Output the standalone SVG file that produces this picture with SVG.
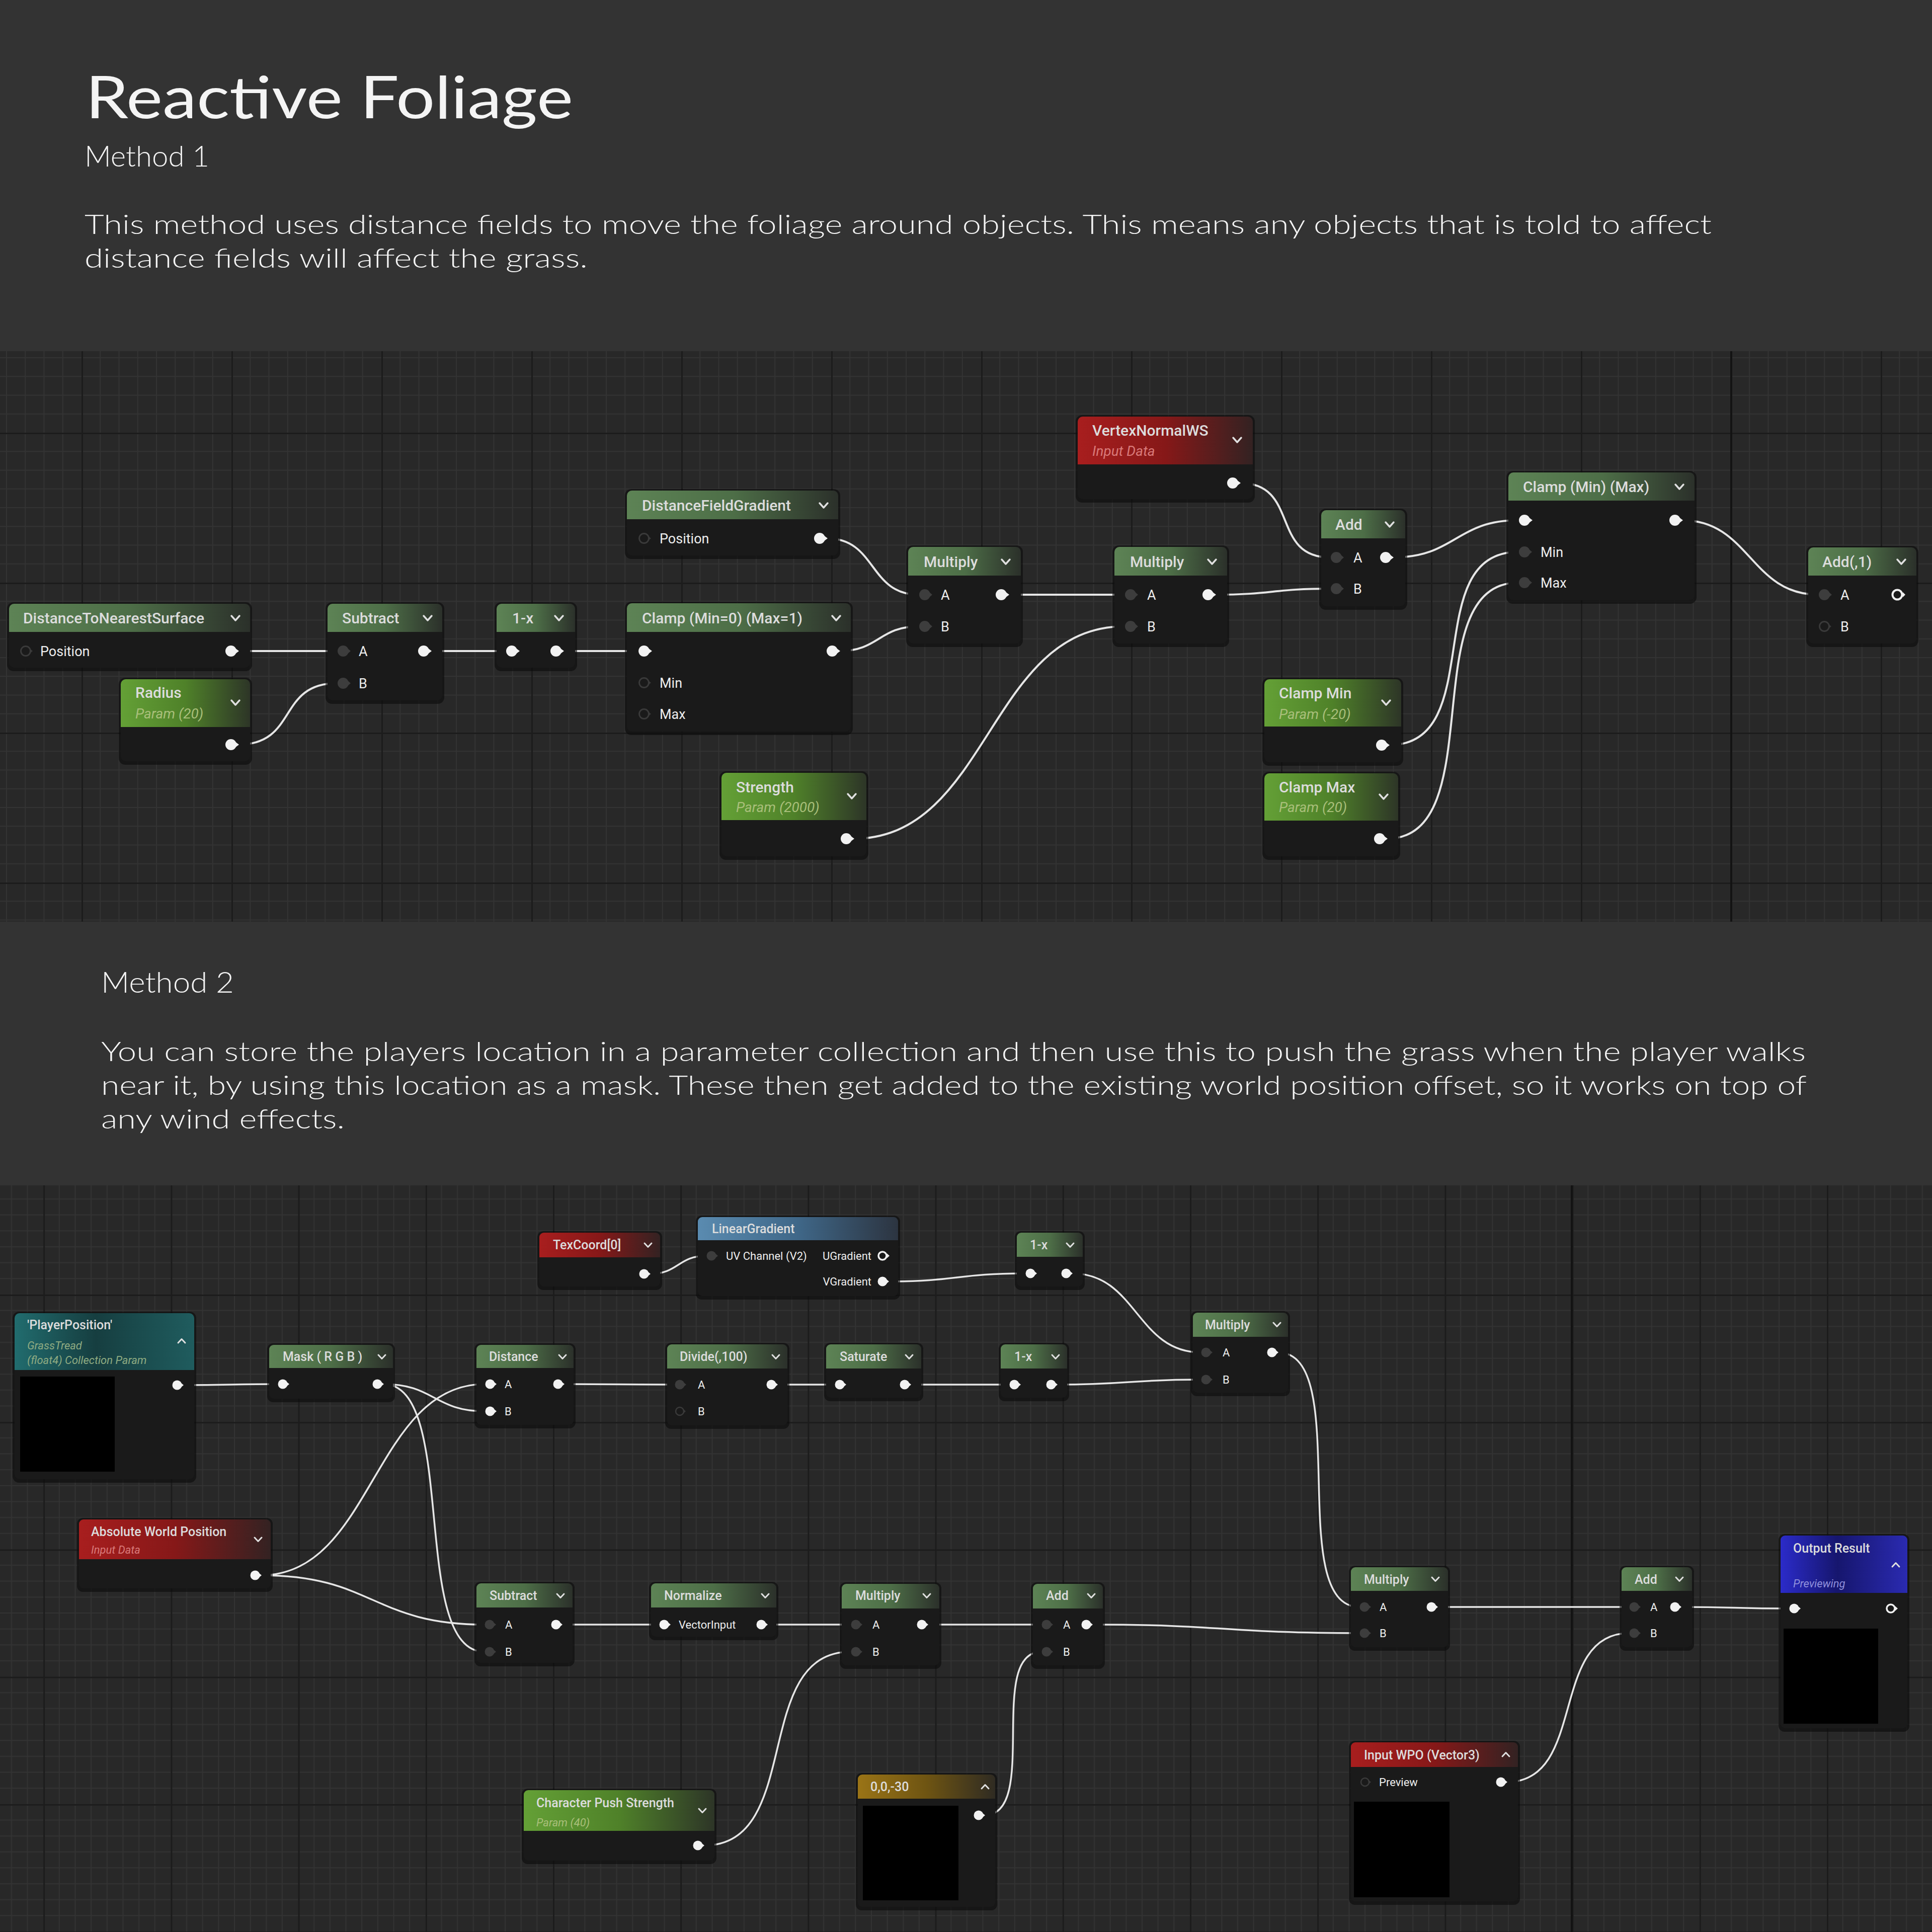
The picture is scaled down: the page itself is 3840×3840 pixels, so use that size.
<svg xmlns="http://www.w3.org/2000/svg" xmlns:xlink="http://www.w3.org/1999/xlink" width="3840" height="3840" viewBox="0 0 3840 3840">
<defs>
<style>
.t{font-family:Roboto,"Liberation Sans",sans-serif;font-weight:500;font-size:30px;fill:#dcdcdc}
.t2{font-family:Roboto,"Liberation Sans",sans-serif;font-weight:500;font-size:25px;fill:#dcdcdc}
.s{font-family:Roboto,"Liberation Sans",sans-serif;font-style:italic;font-size:28px}
.s2{font-family:Roboto,"Liberation Sans",sans-serif;font-style:italic;font-size:22px}
.p{font-family:Roboto,"Liberation Sans",sans-serif;font-size:27px;fill:#eeeeee}
.p2{font-family:Roboto,"Liberation Sans",sans-serif;font-size:22px;fill:#eeeeee}
.e{text-anchor:end}
.bd{fill:#1a1a1a}
.sh{fill:#0a0a0a;opacity:.6}
.blk{fill:#000000}
.w{fill:none;stroke:#e6e6e6;stroke-width:4;stroke-linecap:round}
.w2{fill:none;stroke:#e6e6e6;stroke-width:3.5;stroke-linecap:round}
.tx{font-family:Lato,"Open Sans","Liberation Sans",sans-serif;fill:#f4f4f4}
.pg{fill:#a9bf7a}
.pr{fill:#d97a7a}
</style>
<linearGradient id="hF" x1="0" y1="0" x2="1" y2="0"><stop offset="0" stop-color="#5d8355"/><stop offset="0.5" stop-color="#4d6e47"/><stop offset="1" stop-color="#2b302a"/></linearGradient>
<linearGradient id="hP" x1="0" y1="0" x2="1" y2="0"><stop offset="0" stop-color="#64a036"/><stop offset="0.5" stop-color="#4f8129"/><stop offset="1" stop-color="#2d3527"/></linearGradient>
<linearGradient id="hR" x1="0" y1="0" x2="1" y2="0"><stop offset="0" stop-color="#a81e1e"/><stop offset="0.5" stop-color="#861818"/><stop offset="1" stop-color="#332222"/></linearGradient>
<linearGradient id="hT" x1="0" y1="0" x2="1" y2="0"><stop offset="0" stop-color="#216c6e"/><stop offset="0.45" stop-color="#163e40"/><stop offset="1" stop-color="#1f5c5e"/></linearGradient>
<linearGradient id="hS" x1="0" y1="0" x2="1" y2="0"><stop offset="0" stop-color="#5a8bb0"/><stop offset="0.5" stop-color="#3f6788"/><stop offset="1" stop-color="#2c3440"/></linearGradient>
<linearGradient id="hG" x1="0" y1="0" x2="1" y2="0"><stop offset="0" stop-color="#9a7416"/><stop offset="0.5" stop-color="#6e5412"/><stop offset="1" stop-color="#2f2b22"/></linearGradient>
<linearGradient id="hB" x1="0" y1="0" x2="1" y2="0"><stop offset="0" stop-color="#2b2bc9"/><stop offset="0.45" stop-color="#16166e"/><stop offset="1" stop-color="#2a2ab0"/></linearGradient>
<pattern id="grid1" patternUnits="userSpaceOnUse" x="162" y="860" width="298" height="298">
<rect width="298" height="298" fill="#282828"/>
<path d="M37.25,0V298M74.5,0V298M111.75,0V298M149,0V298M186.25,0V298M223.5,0V298M260.75,0V298M0,37.25H298M0,74.5H298M0,111.75H298M0,149H298M0,186.25H298M0,223.5H298M0,260.75H298" stroke="#333333" stroke-width="2"/>
<path d="M1.5,0V298M0,1.5H298" stroke="#1c1c1c" stroke-width="3"/>
</pattern>
<pattern id="grid2" patternUnits="userSpaceOnUse" x="86.2" y="2319.8" width="253.2" height="253.2">
<rect width="253.2" height="253.2" fill="#282828"/>
<path d="M31.65,0V253.2M63.3,0V253.2M94.95,0V253.2M126.6,0V253.2M158.25,0V253.2M189.9,0V253.2M221.55,0V253.2M0,31.65H253.2M0,63.3H253.2M0,94.95H253.2M0,126.6H253.2M0,158.25H253.2M0,189.9H253.2M0,221.55H253.2" stroke="#333333" stroke-width="2"/>
<path d="M1.5,0V253.2M0,1.5H253.2" stroke="#1c1c1c" stroke-width="3"/>
</pattern>
<g id="pw"><circle r="11" fill="#f2f2f2"/><path d="M8,-6L16,0L8,6Z" fill="#f2f2f2"/></g>
<g id="pd"><circle r="11" fill="#3d3d3d"/><path d="M8,-6L15,0L8,6Z" fill="#3d3d3d"/></g>
<g id="ph"><circle r="9.5" fill="none" stroke="#3a3a3a" stroke-width="3"/><path d="M9,-4L14,0L9,4Z" fill="#3a3a3a"/></g>
<g id="phw"><circle r="9.5" fill="none" stroke="#f0f0f0" stroke-width="4"/><path d="M11,-5L16,0L11,5Z" fill="#f0f0f0"/></g>
<g id="pw2"><circle r="9.5" fill="#f2f2f2"/><path d="M7,-5L13,0L7,5Z" fill="#f2f2f2"/></g>
<g id="pd2"><circle r="9.5" fill="#3d3d3d"/><path d="M7,-5L13,0L7,5Z" fill="#3d3d3d"/></g>
<g id="ph2"><circle r="8" fill="none" stroke="#3a3a3a" stroke-width="2.5"/><path d="M8,-3.5L12,0L8,3.5Z" fill="#3a3a3a"/></g>
<g id="phw2"><circle r="8" fill="none" stroke="#f0f0f0" stroke-width="3.5"/><path d="M9,-4.5L14,0L9,4.5Z" fill="#f0f0f0"/></g>
<path id="chv" d="M-8,-5L0,4L8,-5" fill="none" stroke="#e0e0e0" stroke-width="3.5" stroke-linecap="round" stroke-linejoin="round"/>
<path id="chv2" d="M-7,-4L0,3.5L7,-4" fill="none" stroke="#e0e0e0" stroke-width="3" stroke-linecap="round" stroke-linejoin="round"/>
<path id="chu2" d="M-7,4L0,-3.5L7,4" fill="none" stroke="#e0e0e0" stroke-width="3" stroke-linecap="round" stroke-linejoin="round"/>
</defs>

<rect width="3840" height="3840" fill="#333333"/>
<rect x="0" y="698" width="3840" height="1134" fill="url(#grid1)"/>
<rect x="3439" y="698" width="4" height="1134" fill="#131313"/>
<rect x="0" y="2356" width="3840" height="1484" fill="url(#grid2)"/>
<rect x="3122" y="2356" width="4" height="1484" fill="#131313"/>

<g id="texts">
<text class="tx" x="170" y="235" font-size="116" font-weight="400" textLength="969" lengthAdjust="spacingAndGlyphs">Reactive Foliage</text>
<text class="tx" x="168" y="331" font-size="57" font-weight="300" textLength="248" lengthAdjust="spacingAndGlyphs">Method 1</text>
<text class="tx" x="168" y="465" font-size="54" font-weight="300" textLength="3234" lengthAdjust="spacingAndGlyphs">This method uses distance fields to move the foliage around objects. This means any objects that is told to affect</text>
<text class="tx" x="168" y="532" font-size="54" font-weight="300" textLength="1000" lengthAdjust="spacingAndGlyphs">distance fields will affect the grass.</text>
<text class="tx" x="201" y="1973" font-size="57" font-weight="300" textLength="264" lengthAdjust="spacingAndGlyphs">Method 2</text>
<text class="tx" x="201" y="2109" font-size="54" font-weight="300" textLength="3388" lengthAdjust="spacingAndGlyphs">You can store the players location in a parameter collection and then use this to push the grass when the player walks</text>
<text class="tx" x="201" y="2176" font-size="54" font-weight="300" textLength="3390" lengthAdjust="spacingAndGlyphs">near it, by using this location as a mask. These then get added to the existing world position offset, so it works on top of</text>
<text class="tx" x="201" y="2243" font-size="54" font-weight="300" textLength="484" lengthAdjust="spacingAndGlyphs">any wind effects.</text>
</g>

<g id="connectors">
<path class="w" d="M473,1294L670,1294"/>
<path class="w" d="M473,1480C593,1480 550,1358 670,1358"/>
<path class="w" d="M856,1294L1005,1294"/>
<path class="w" d="M1119,1294L1268,1294"/>
<path class="w" d="M1643,1070C1743,1070 1726,1182 1826,1182"/>
<path class="w" d="M1668,1294C1747,1294 1747,1245 1826,1245"/>
<path class="w" d="M2004,1182L2235,1182"/>
<path class="w" d="M1696,1667C1966,1667 1965,1245 2235,1245"/>
<path class="w" d="M2464,960C2584,960 2524,1108 2644,1108"/>
<path class="w" d="M2415,1182C2530,1182 2529,1170 2644,1170"/>
<path class="w" d="M2768,1108C2893,1108 2893,1034 3018,1034"/>
<path class="w" d="M2760,1481C2960,1481 2818,1097 3018,1097"/>
<path class="w" d="M2756,1667C2966,1667 2808,1158 3018,1158"/>
<path class="w" d="M3343,1034C3478,1034 3479,1182 3614,1182"/>

<path class="w2" d="M364,2753C458,2753 458,2751 552,2751"/>
<path class="w2" d="M762,2751C863,2751 863,2805 964,2805"/>
<path class="w2" d="M762,2751C912,2751 813,3283 963,3283"/>
<path class="w2" d="M519,3131C741,3131 742,2751 964,2751"/>
<path class="w2" d="M519,3131C741,3131 741,3229 963,3229"/>
<path class="w2" d="M1121,2751C1231,2751 1231,2752 1341,2752"/>
<path class="w2" d="M1545,2752L1659,2752"/>
<path class="w2" d="M1810,2752L2006,2752"/>
<path class="w2" d="M2101,2752C2244,2752 2244,2742 2387,2742"/>
<path class="w2" d="M1292,2532C1348,2532 1348,2496 1404,2496"/>
<path class="w2" d="M1766,2547C1902,2547 1902,2531 2038,2531"/>
<path class="w2" d="M2131,2531C2259,2531 2259,2688 2387,2688"/>
<path class="w2" d="M2540,2688C2690,2688 2552,3194 2702,3194"/>
<path class="w2" d="M1117,3229L1310,3229"/>
<path class="w2" d="M1525,3229L1691,3229"/>
<path class="w2" d="M1399,3668C1599,3668 1491,3283 1691,3283"/>
<path class="w2" d="M1844,3229L2070,3229"/>
<path class="w2" d="M1957,3608C2067,3608 1960,3283 2070,3283"/>
<path class="w2" d="M2171,3229C2436,3229 2437,3246 2702,3246"/>
<path class="w2" d="M2857,3194L3238,3194"/>
<path class="w2" d="M2995,3542C3155,3542 3078,3246 3238,3246"/>
<path class="w2" d="M3341,3194C3448,3194 3449,3197 3556,3197"/>
</g>

<g id="nodes">
<g id="n1-distance-to-nearest-surface">
<rect class="sh" x="14" y="1197" width="487" height="137" rx="13"/>
<rect class="bd" x="18" y="1200" width="479" height="127" rx="10"/>
<rect x="18" y="1200" width="479" height="56" rx="10" fill="url(#hF)"/><rect x="18" y="1240" width="479" height="16" fill="url(#hF)"/>
<text class="t" x="46" y="1239">DistanceToNearestSurface</text>
<use href="#chv" x="468" y="1229"/>
<use href="#ph" x="51" y="1294"/><text class="p" x="80" y="1304">Position</text>
<use href="#pw" x="459" y="1294"/>
</g>
<g id="n1-radius">
<rect class="sh" x="236" y="1347" width="265" height="173" rx="13"/>
<rect class="bd" x="240" y="1350" width="257" height="163" rx="10"/>
<rect x="240" y="1350" width="257" height="95" rx="10" fill="url(#hP)"/><rect x="240" y="1429" width="257" height="16" fill="url(#hP)"/>
<text class="t" x="269" y="1387">Radius</text>
<text class="s pg" x="269" y="1428">Param (20)</text>
<use href="#chv" x="468" y="1397"/>
<use href="#pw" x="459" y="1480"/>
</g>
<g id="n1-subtract">
<rect class="sh" x="647" y="1197" width="236" height="202" rx="13"/>
<rect class="bd" x="651" y="1200" width="228" height="192" rx="10"/>
<rect x="651" y="1200" width="228" height="56" rx="10" fill="url(#hF)"/><rect x="651" y="1240" width="228" height="16" fill="url(#hF)"/>
<text class="t" x="680" y="1239">Subtract</text>
<use href="#chv" x="850" y="1229"/>
<use href="#pd" x="682" y="1294"/><text class="p" x="713" y="1304">A</text>
<use href="#pd" x="682" y="1358"/><text class="p" x="713" y="1368">B</text>
<use href="#pw" x="842" y="1294"/>
</g>
<g id="n1-one-minus">
<rect class="sh" x="983" y="1197" width="164" height="137" rx="13"/>
<rect class="bd" x="987" y="1200" width="156" height="127" rx="10"/>
<rect x="987" y="1200" width="156" height="56" rx="10" fill="url(#hF)"/><rect x="987" y="1240" width="156" height="16" fill="url(#hF)"/>
<text class="t" x="1018" y="1239">1-x</text>
<use href="#chv" x="1111" y="1229"/>
<use href="#pw" x="1017" y="1294"/><use href="#pw" x="1105" y="1294"/>
</g>
<g id="n1-clamp01">
<rect class="sh" x="1242" y="1196" width="453" height="265" rx="13"/>
<rect class="bd" x="1246" y="1199" width="445" height="255" rx="10"/>
<rect x="1246" y="1199" width="445" height="57" rx="10" fill="url(#hF)"/><rect x="1246" y="1240" width="445" height="16" fill="url(#hF)"/>
<text class="t" x="1276" y="1239">Clamp (Min=0) (Max=1)</text>
<use href="#chv" x="1662" y="1229"/>
<use href="#pw" x="1280" y="1294"/><use href="#pw" x="1654" y="1294"/>
<use href="#ph" x="1280" y="1357"/><text class="p" x="1311" y="1367">Min</text>
<use href="#ph" x="1280" y="1419"/><text class="p" x="1311" y="1429">Max</text>
</g>
<g id="n1-distance-field-gradient">
<rect class="sh" x="1242" y="972" width="428" height="139" rx="13"/>
<rect class="bd" x="1246" y="975" width="420" height="129" rx="10"/>
<rect x="1246" y="975" width="420" height="57" rx="10" fill="url(#hF)"/><rect x="1246" y="1016" width="420" height="16" fill="url(#hF)"/>
<text class="t" x="1276" y="1015">DistanceFieldGradient</text>
<use href="#chv" x="1637" y="1005"/>
<use href="#ph" x="1280" y="1070"/><text class="p" x="1311" y="1080">Position</text>
<use href="#pw" x="1629" y="1070"/>
</g>
<g id="n1-multiply-a">
<rect class="sh" x="1801" y="1084" width="232" height="202" rx="13"/>
<rect class="bd" x="1805" y="1087" width="224" height="192" rx="10"/>
<rect x="1805" y="1087" width="224" height="57" rx="10" fill="url(#hF)"/><rect x="1805" y="1128" width="224" height="16" fill="url(#hF)"/>
<text class="t" x="1836" y="1127">Multiply</text>
<use href="#chv" x="1999" y="1117"/>
<use href="#pd" x="1838" y="1182"/><text class="p" x="1870" y="1192">A</text>
<use href="#pd" x="1838" y="1245"/><text class="p" x="1870" y="1255">B</text>
<use href="#pw" x="1990" y="1182"/>
</g>
<g id="n1-multiply-b">
<rect class="sh" x="2211" y="1084" width="232" height="202" rx="13"/>
<rect class="bd" x="2215" y="1087" width="224" height="192" rx="10"/>
<rect x="2215" y="1087" width="224" height="57" rx="10" fill="url(#hF)"/><rect x="2215" y="1128" width="224" height="16" fill="url(#hF)"/>
<text class="t" x="2246" y="1127">Multiply</text>
<use href="#chv" x="2409" y="1117"/>
<use href="#pd" x="2247" y="1182"/><text class="p" x="2280" y="1192">A</text>
<use href="#pd" x="2247" y="1245"/><text class="p" x="2280" y="1255">B</text>
<use href="#pw" x="2401" y="1182"/>
</g>
<g id="n1-vertex-normal-ws">
<rect class="sh" x="2138" y="825" width="356" height="174" rx="13"/>
<rect class="bd" x="2142" y="828" width="348" height="164" rx="10"/>
<rect x="2142" y="828" width="348" height="95" rx="10" fill="url(#hR)"/><rect x="2142" y="907" width="348" height="16" fill="url(#hR)"/>
<text class="t" x="2171" y="866">VertexNormalWS</text>
<text class="s pr" x="2171" y="906">Input Data</text>
<use href="#chv" x="2459" y="875"/>
<use href="#pw" x="2450" y="960"/>
</g>
<g id="n1-strength">
<rect class="sh" x="1430" y="1533" width="296" height="176" rx="13"/>
<rect class="bd" x="1434" y="1536" width="288" height="166" rx="10"/>
<rect x="1434" y="1536" width="288" height="94" rx="10" fill="url(#hP)"/><rect x="1434" y="1614" width="288" height="16" fill="url(#hP)"/>
<text class="t" x="1463" y="1575">Strength</text>
<text class="s pg" x="1463" y="1614">Param (2000)</text>
<use href="#chv" x="1693" y="1583"/>
<use href="#pw" x="1682" y="1667"/>
</g>
<g id="n1-add">
<rect class="sh" x="2622" y="1011" width="175" height="201" rx="13"/>
<rect class="bd" x="2626" y="1014" width="167" height="191" rx="10"/>
<rect x="2626" y="1014" width="167" height="56" rx="10" fill="url(#hF)"/><rect x="2626" y="1054" width="167" height="16" fill="url(#hF)"/>
<text class="t" x="2654" y="1053">Add</text>
<use href="#chv" x="2762" y="1043"/>
<use href="#pd" x="2656" y="1108"/><text class="p" x="2690" y="1118">A</text>
<use href="#pd" x="2656" y="1170"/><text class="p" x="2690" y="1180">B</text>
<use href="#pw" x="2754" y="1108"/>
</g>
<g id="n1-clamp-min-max">
<rect class="sh" x="2994" y="936" width="378" height="264" rx="13"/>
<rect class="bd" x="2998" y="939" width="370" height="254" rx="10"/>
<rect x="2998" y="939" width="370" height="56" rx="10" fill="url(#hF)"/><rect x="2998" y="979" width="370" height="16" fill="url(#hF)"/>
<text class="t" x="3027" y="978">Clamp (Min) (Max)</text>
<use href="#chv" x="3338" y="968"/>
<use href="#pw" x="3030" y="1034"/><use href="#pw" x="3329" y="1034"/>
<use href="#pd" x="3030" y="1097"/><text class="p" x="3062" y="1107">Min</text>
<use href="#pd" x="3030" y="1158"/><text class="p" x="3062" y="1168">Max</text>
</g>
<g id="n1-add-1">
<rect class="sh" x="3590" y="1085" width="223" height="201" rx="13"/>
<rect class="bd" x="3594" y="1088" width="215" height="191" rx="10"/>
<rect x="3594" y="1088" width="215" height="56" rx="10" fill="url(#hF)"/><rect x="3594" y="1128" width="215" height="16" fill="url(#hF)"/>
<text class="t" x="3622" y="1127">Add(,1)</text>
<use href="#chv" x="3779" y="1117"/>
<use href="#pd" x="3626" y="1182"/><text class="p" x="3658" y="1192">A</text>
<use href="#ph" x="3626" y="1245"/><text class="p" x="3658" y="1255">B</text>
<use href="#phw" x="3771" y="1182"/>
</g>
<g id="n1-clamp-min-param">
<rect class="sh" x="2509" y="1347" width="280" height="175" rx="13"/>
<rect class="bd" x="2513" y="1350" width="272" height="165" rx="10"/>
<rect x="2513" y="1350" width="272" height="94" rx="10" fill="url(#hP)"/><rect x="2513" y="1428" width="272" height="16" fill="url(#hP)"/>
<text class="t" x="2542" y="1388">Clamp Min</text>
<text class="s pg" x="2542" y="1429">Param (-20)</text>
<use href="#chv" x="2755" y="1397"/>
<use href="#pw" x="2746" y="1481"/>
</g>
<g id="n1-clamp-max-param">
<rect class="sh" x="2509" y="1534" width="274" height="175" rx="13"/>
<rect class="bd" x="2513" y="1537" width="266" height="165" rx="10"/>
<rect x="2513" y="1537" width="266" height="94" rx="10" fill="url(#hP)"/><rect x="2513" y="1615" width="266" height="16" fill="url(#hP)"/>
<text class="t" x="2542" y="1575">Clamp Max</text>
<text class="s pg" x="2542" y="1614">Param (20)</text>
<use href="#chv" x="2750" y="1584"/>
<use href="#pw" x="2742" y="1667"/>
</g>

<g id="n2-player-position">
<rect class="sh" x="25" y="2607" width="365" height="340" rx="13"/>
<rect class="bd" x="29" y="2610" width="357" height="330" rx="10"/>
<rect x="29" y="2610" width="357" height="113" rx="10" fill="url(#hT)"/><rect x="29" y="2707" width="357" height="16" fill="url(#hT)"/>
<text class="t2" x="54" y="2642">'PlayerPosition'</text>
<text class="s2" x="54" y="2682" fill="#8fab82">GrassTread</text>
<text class="s2" x="54" y="2711" fill="#8fab82">(float4) Collection Param</text>
<use href="#chu2" x="361" y="2665"/>
<rect class="blk" x="40" y="2736" width="188" height="189"/>
<use href="#pw2" x="352" y="2753"/>
</g>
<g id="n2-mask-rgb">
<rect class="sh" x="531" y="2670" width="254" height="117" rx="12"/>
<rect class="bd" x="535" y="2673" width="246" height="107" rx="9"/>
<rect x="535" y="2673" width="246" height="46" rx="9" fill="url(#hF)"/><rect x="535" y="2703" width="246" height="16" fill="url(#hF)"/>
<text class="t2" x="562" y="2705">Mask ( R G B )</text>
<use href="#chv2" x="759" y="2697"/>
<use href="#pw2" x="562" y="2751"/><use href="#pw2" x="750" y="2751"/>
</g>
<g id="n2-distance">
<rect class="sh" x="943" y="2670" width="201" height="169" rx="12"/>
<rect class="bd" x="947" y="2673" width="193" height="159" rx="9"/>
<rect x="947" y="2673" width="193" height="46" rx="9" fill="url(#hF)"/><rect x="947" y="2703" width="193" height="16" fill="url(#hF)"/>
<text class="t2" x="972" y="2705">Distance</text>
<use href="#chv2" x="1118" y="2697"/>
<use href="#pw2" x="974" y="2751"/><text class="p2" x="1003" y="2759">A</text>
<use href="#pw2" x="974" y="2805"/><text class="p2" x="1003" y="2813">B</text>
<use href="#pw2" x="1109" y="2751"/>
</g>
<g id="n2-texcoord">
<rect class="sh" x="1068" y="2447" width="248" height="117" rx="12"/>
<rect class="bd" x="1072" y="2450" width="240" height="107" rx="9"/>
<rect x="1072" y="2450" width="240" height="49" rx="9" fill="url(#hR)"/><rect x="1072" y="2483" width="240" height="16" fill="url(#hR)"/>
<text class="t2" x="1099" y="2483">TexCoord[0]</text>
<use href="#chv2" x="1288" y="2475"/>
<use href="#pw2" x="1280" y="2532"/>
</g>
<g id="n2-linear-gradient">
<rect class="sh" x="1383" y="2416" width="406" height="167" rx="12"/>
<rect class="bd" x="1387" y="2419" width="398" height="157" rx="9"/>
<rect x="1387" y="2419" width="398" height="46" rx="9" fill="url(#hS)"/><rect x="1387" y="2449" width="398" height="16" fill="url(#hS)"/>
<text class="t2" x="1415" y="2451">LinearGradient</text>
<use href="#pd2" x="1414" y="2496"/><text class="p2" x="1443" y="2504">UV Channel (V2)</text>
<text class="p2 e" x="1732" y="2504">UGradient</text><use href="#phw2" x="1754" y="2496"/>
<text class="p2 e" x="1732" y="2555">VGradient</text><use href="#pw2" x="1754" y="2547"/>
</g>
<g id="n2-one-minus-a">
<rect class="sh" x="2017" y="2447" width="139" height="117" rx="12"/>
<rect class="bd" x="2021" y="2450" width="131" height="107" rx="9"/>
<rect x="2021" y="2450" width="131" height="48" rx="9" fill="url(#hF)"/><rect x="2021" y="2482" width="131" height="16" fill="url(#hF)"/>
<text class="t2" x="2047" y="2483">1-x</text>
<use href="#chv2" x="2127" y="2475"/>
<use href="#pw2" x="2048" y="2531"/><use href="#pw2" x="2119" y="2531"/>
</g>
<g id="n2-divide">
<rect class="sh" x="1322" y="2669" width="247" height="171" rx="12"/>
<rect class="bd" x="1326" y="2672" width="239" height="161" rx="9"/>
<rect x="1326" y="2672" width="239" height="48" rx="9" fill="url(#hF)"/><rect x="1326" y="2704" width="239" height="16" fill="url(#hF)"/>
<text class="t2" x="1351" y="2705">Divide(,100)</text>
<use href="#chv2" x="1542" y="2697"/>
<use href="#pd2" x="1351" y="2752"/><text class="p2" x="1387" y="2760">A</text>
<use href="#ph2" x="1351" y="2805"/><text class="p2" x="1387" y="2813">B</text>
<use href="#pw2" x="1533" y="2752"/>
</g>
<g id="n2-saturate">
<rect class="sh" x="1638" y="2669" width="197" height="116" rx="12"/>
<rect class="bd" x="1642" y="2672" width="189" height="106" rx="9"/>
<rect x="1642" y="2672" width="189" height="48" rx="9" fill="url(#hF)"/><rect x="1642" y="2704" width="189" height="16" fill="url(#hF)"/>
<text class="t2" x="1669" y="2705">Saturate</text>
<use href="#chv2" x="1807" y="2697"/>
<use href="#pw2" x="1669" y="2752"/><use href="#pw2" x="1798" y="2752"/>
</g>
<g id="n2-one-minus-b">
<rect class="sh" x="1985" y="2669" width="140" height="116" rx="12"/>
<rect class="bd" x="1989" y="2672" width="132" height="106" rx="9"/>
<rect x="1989" y="2672" width="132" height="48" rx="9" fill="url(#hF)"/><rect x="1989" y="2704" width="132" height="16" fill="url(#hF)"/>
<text class="t2" x="2016" y="2705">1-x</text>
<use href="#chv2" x="2098" y="2697"/>
<use href="#pw2" x="2016" y="2752"/><use href="#pw2" x="2089" y="2752"/>
</g>
<g id="n2-multiply-mask">
<rect class="sh" x="2367" y="2606" width="197" height="169" rx="12"/>
<rect class="bd" x="2371" y="2609" width="189" height="159" rx="9"/>
<rect x="2371" y="2609" width="189" height="48" rx="9" fill="url(#hF)"/><rect x="2371" y="2641" width="189" height="16" fill="url(#hF)"/>
<text class="t2" x="2395" y="2642">Multiply</text>
<use href="#chv2" x="2538" y="2633"/>
<use href="#pd2" x="2397" y="2688"/><text class="p2" x="2430" y="2696">A</text>
<use href="#pd2" x="2397" y="2742"/><text class="p2" x="2430" y="2750">B</text>
<use href="#pw2" x="2528" y="2688"/>
</g>
<g id="n2-absolute-world-position">
<rect class="sh" x="153" y="3017" width="389" height="147" rx="12"/>
<rect class="bd" x="157" y="3020" width="381" height="137" rx="9"/>
<rect x="157" y="3020" width="381" height="79" rx="9" fill="url(#hR)"/><rect x="157" y="3083" width="381" height="16" fill="url(#hR)"/>
<text class="t2" x="181" y="3053">Absolute World Position</text>
<text class="s2 pr" x="181" y="3088">Input Data</text>
<use href="#chv2" x="513" y="3060"/>
<use href="#pw2" x="507" y="3131"/>
</g>
<g id="n2-subtract">
<rect class="sh" x="943" y="3144" width="199" height="168" rx="12"/>
<rect class="bd" x="947" y="3147" width="191" height="158" rx="9"/>
<rect x="947" y="3147" width="191" height="48" rx="9" fill="url(#hF)"/><rect x="947" y="3179" width="191" height="16" fill="url(#hF)"/>
<text class="t2" x="973" y="3180">Subtract</text>
<use href="#chv2" x="1114" y="3172"/>
<use href="#pd2" x="973" y="3229"/><text class="p2" x="1004" y="3237">A</text>
<use href="#pd2" x="973" y="3283"/><text class="p2" x="1004" y="3291">B</text>
<use href="#pw2" x="1105" y="3229"/>
</g>
<g id="n2-normalize">
<rect class="sh" x="1290" y="3144" width="257" height="116" rx="12"/>
<rect class="bd" x="1294" y="3147" width="249" height="106" rx="9"/>
<rect x="1294" y="3147" width="249" height="48" rx="9" fill="url(#hF)"/><rect x="1294" y="3179" width="249" height="16" fill="url(#hF)"/>
<text class="t2" x="1320" y="3180">Normalize</text>
<use href="#chv2" x="1521" y="3172"/>
<use href="#pw2" x="1320" y="3229"/><text class="p2" x="1349" y="3237">VectorInput</text>
<use href="#pw2" x="1513" y="3229"/>
</g>
<g id="n2-multiply-push">
<rect class="sh" x="1669" y="3145" width="202" height="172" rx="12"/>
<rect class="bd" x="1673" y="3148" width="194" height="162" rx="9"/>
<rect x="1673" y="3148" width="194" height="49" rx="9" fill="url(#hF)"/><rect x="1673" y="3181" width="194" height="16" fill="url(#hF)"/>
<text class="t2" x="1700" y="3180">Multiply</text>
<use href="#chv2" x="1842" y="3172"/>
<use href="#pd2" x="1701" y="3229"/><text class="p2" x="1734" y="3237">A</text>
<use href="#pd2" x="1701" y="3283"/><text class="p2" x="1734" y="3291">B</text>
<use href="#pw2" x="1832" y="3229"/>
</g>
<g id="n2-add-offset">
<rect class="sh" x="2049" y="3145" width="147" height="172" rx="12"/>
<rect class="bd" x="2053" y="3148" width="139" height="162" rx="9"/>
<rect x="2053" y="3148" width="139" height="49" rx="9" fill="url(#hF)"/><rect x="2053" y="3181" width="139" height="16" fill="url(#hF)"/>
<text class="t2" x="2079" y="3180">Add</text>
<use href="#chv2" x="2169" y="3172"/>
<use href="#pd2" x="2080" y="3229"/><text class="p2" x="2113" y="3237">A</text>
<use href="#pd2" x="2080" y="3283"/><text class="p2" x="2113" y="3291">B</text>
<use href="#pw2" x="2159" y="3229"/>
</g>
<g id="n2-character-push-strength">
<rect class="sh" x="1037" y="3555" width="387" height="150" rx="12"/>
<rect class="bd" x="1041" y="3558" width="379" height="140" rx="9"/>
<rect x="1041" y="3558" width="379" height="81" rx="9" fill="url(#hP)"/><rect x="1041" y="3623" width="379" height="16" fill="url(#hP)"/>
<text class="t2" x="1066" y="3592">Character Push Strength</text>
<text class="s2 pg" x="1066" y="3630">Param (40)</text>
<use href="#chv2" x="1396" y="3599"/>
<use href="#pw2" x="1387" y="3668"/>
</g>
<g id="n2-constant-vector">
<rect class="sh" x="1701" y="3524" width="281" height="273" rx="12"/>
<rect class="bd" x="1705" y="3527" width="273" height="263" rx="9"/>
<rect x="1705" y="3527" width="273" height="48" rx="9" fill="url(#hG)"/><rect x="1705" y="3559" width="273" height="16" fill="url(#hG)"/>
<text class="t2" x="1730" y="3560">0,0,-30</text>
<use href="#chu2" x="1958" y="3551"/>
<rect class="blk" x="1715" y="3589" width="190" height="188"/>
<use href="#pw2" x="1945" y="3608"/>
</g>
<g id="n2-multiply-final">
<rect class="sh" x="2681" y="3112" width="201" height="169" rx="12"/>
<rect class="bd" x="2685" y="3115" width="193" height="159" rx="9"/>
<rect x="2685" y="3115" width="193" height="47" rx="9" fill="url(#hF)"/><rect x="2685" y="3146" width="193" height="16" fill="url(#hF)"/>
<text class="t2" x="2711" y="3148">Multiply</text>
<use href="#chv2" x="2853" y="3139"/>
<use href="#pd2" x="2712" y="3194"/><text class="p2" x="2742" y="3202">A</text>
<use href="#pd2" x="2712" y="3246"/><text class="p2" x="2742" y="3254">B</text>
<use href="#pw2" x="2845" y="3194"/>
</g>
<g id="n2-add-final">
<rect class="sh" x="3219" y="3112" width="148" height="169" rx="12"/>
<rect class="bd" x="3223" y="3115" width="140" height="159" rx="9"/>
<rect x="3223" y="3115" width="140" height="47" rx="9" fill="url(#hF)"/><rect x="3223" y="3146" width="140" height="16" fill="url(#hF)"/>
<text class="t2" x="3249" y="3148">Add</text>
<use href="#chv2" x="3338" y="3139"/>
<use href="#pd2" x="3248" y="3194"/><text class="p2" x="3280" y="3202">A</text>
<use href="#pd2" x="3248" y="3246"/><text class="p2" x="3280" y="3254">B</text>
<use href="#pw2" x="3329" y="3194"/>
</g>
<g id="n2-output-result">
<rect class="sh" x="3535" y="3049" width="260" height="393" rx="12"/>
<rect class="bd" x="3539" y="3052" width="252" height="383" rx="9"/>
<rect x="3539" y="3052" width="252" height="114" rx="9" fill="url(#hB)"/><rect x="3539" y="3150" width="252" height="16" fill="url(#hB)"/>
<text class="t2" x="3564" y="3086">Output Result</text>
<text class="s2" x="3564" y="3155" fill="#9090dc">Previewing</text>
<use href="#chu2" x="3768" y="3110"/>
<use href="#pw2" x="3566" y="3197"/><use href="#phw2" x="3758" y="3197"/>
<rect class="blk" x="3545" y="3237" width="188" height="189"/>
</g>
<g id="n2-input-wpo">
<rect class="sh" x="2681" y="3460" width="340" height="326" rx="12"/>
<rect class="bd" x="2685" y="3463" width="332" height="316" rx="9"/>
<rect x="2685" y="3463" width="332" height="49" rx="9" fill="url(#hR)"/><rect x="2685" y="3496" width="332" height="16" fill="url(#hR)"/>
<text class="t2" x="2711" y="3497">Input WPO (Vector3)</text>
<use href="#chu2" x="2993" y="3487"/>
<use href="#ph2" x="2713" y="3542"/><text class="p2" x="2741" y="3550">Preview</text>
<use href="#pw2" x="2983" y="3542"/>
<rect class="blk" x="2691" y="3581" width="190" height="190"/>
</g>
</g>
</svg>
